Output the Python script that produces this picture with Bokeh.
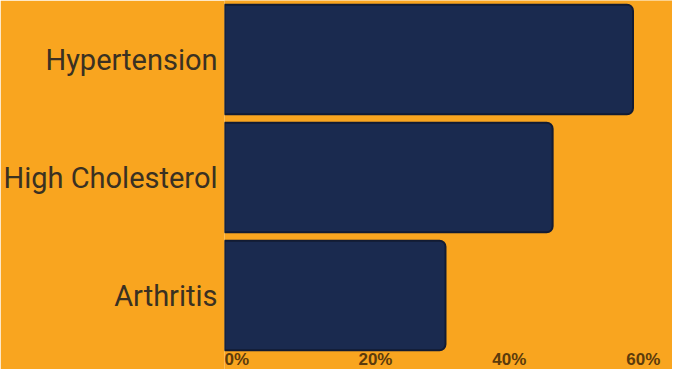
from bokeh.plotting import figure
from bokeh.models import Range1d, ColumnDataSource, LabelSet, FixedTicker
from bokeh.core.properties import value
from bokeh.embed import file_html
from bokeh.resources import INLINE

conditions = ["Hypertension", "High Cholesterol", "Arthritis"]
shares = [61, 49, 33]
tick_values = [0, 20, 40, 60]
tick_labels = ["0%", "20%", "40%", "60%"]

ORANGE = "#F9A51F"
NAVY = "#1A2A4F"

# category positions: first item on top
positions = [len(conditions) - 1 - i for i in range(len(conditions))]

W, H = 672, 369
BAND_PX = 118.0
y_end = len(conditions) - 0.5
y_start = y_end - H / BAND_PX

p = figure(width=W, height=H, output_backend="svg", toolbar_location=None,
           y_range=Range1d(y_start, y_end),
           x_range=Range1d(0, 66.9),
           min_border_left=224, min_border_right=0, min_border_top=0, min_border_bottom=0)

p.background_fill_color = ORANGE
p.border_fill_color = ORANGE
p.outline_line_color = None
p.xgrid.visible = False
p.ygrid.visible = False

src = ColumnDataSource(data=dict(y=positions, right=shares, name=conditions))
p.hbar(y="y", left=0, right="right", height=0.93, source=src,
       fill_color=NAVY, line_color="#121B33", line_width=2,
       border_radius=(0, 6, 6, 0))

ya = p.yaxis[0]
ya.ticker = FixedTicker(ticks=positions)
ya.major_label_overrides = dict(zip(positions, conditions))
ya.axis_line_color = None
ya.major_tick_line_color = None
ya.minor_tick_line_color = None
ya.major_tick_out = 0
ya.major_label_standoff = 7
ya.major_label_text_font = "Roboto"
ya.major_label_text_font_size = "29px"
ya.major_label_text_color = "#3A3122"

p.xaxis.visible = False

tick_src = ColumnDataSource(data=dict(x=tick_values, text=tick_labels))
ticks = LabelSet(x="x", y=5, y_units="screen", text="text", source=tick_src,
                 text_align="left", text_baseline="alphabetic",
                 text_font=value("Liberation Sans"), text_font_style="bold",
                 text_font_size="17px", text_color="#5C3B0C")
p.add_layout(ticks)

open("out.html", "w").write(file_html(p, INLINE))
